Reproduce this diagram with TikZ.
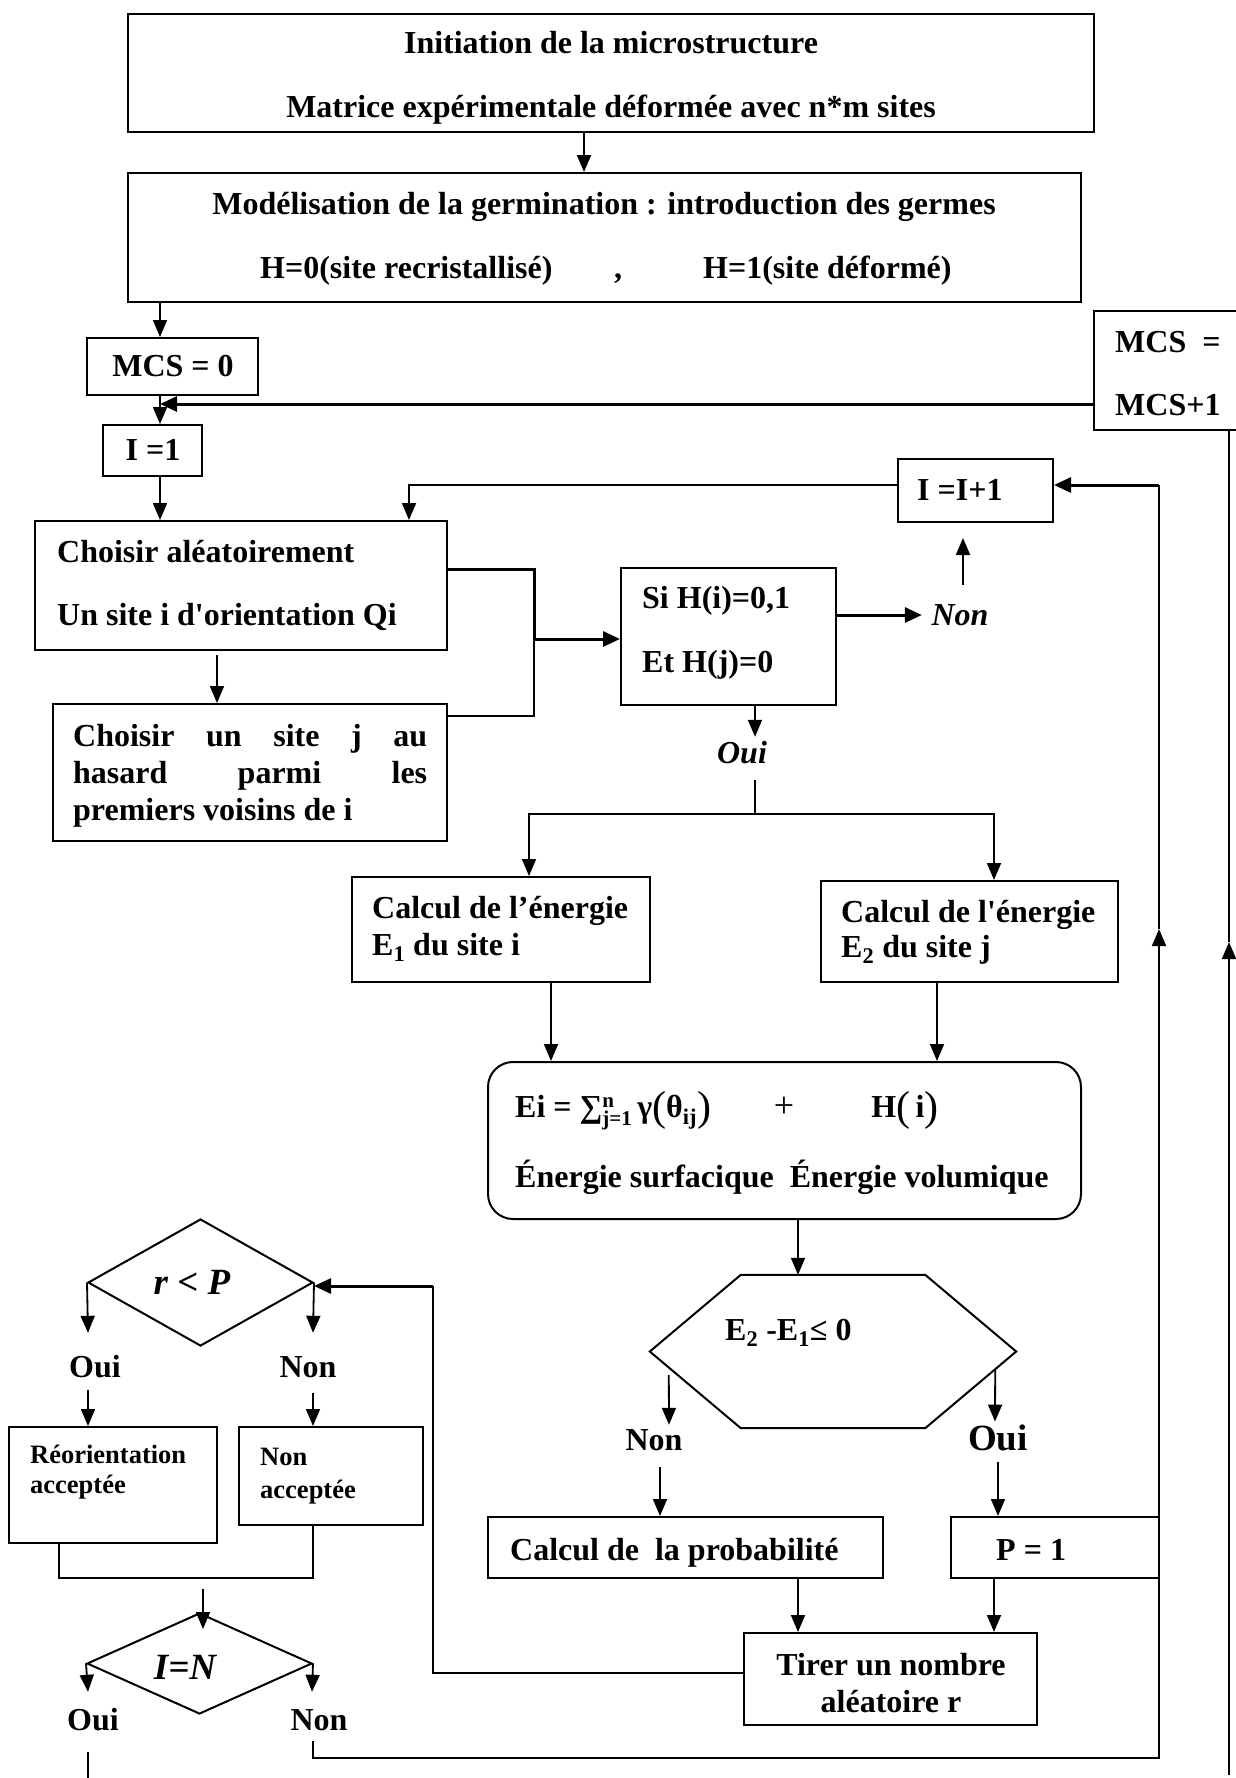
\documentclass[tikz,border=0pt]{standalone}
\usepackage{fontspec}
\setmainfont{Liberation Serif}
\usetikzlibrary{arrows.meta,calc,shapes.geometric}

% stacked limits of the sum, and the thin tall parentheses of the formula
\newcommand{\sumlims}[2]{\raisebox{-8pt}{\fontsize{21}{19}\selectfont\shortstack[l]{#1\\#2}}}
\newcommand{\tallparen}[1]{\raisebox{-3pt}{\fontsize{42}{42}\selectfont\mdseries #1}}

\begin{document}
\begin{tikzpicture}[x=1pt,y=-1pt,
  box/.style={draw, line width=2pt, inner sep=0pt},
  line/.style={line width=1.8pt},
  lineT/.style={line width=3pt},
  arr/.style={line width=1.8pt, -{Triangle[length=17pt,width=14pt]}},
  arrT/.style={line width=3pt, -{Triangle[length=17pt,width=15pt]}},
  txt/.style={inner sep=0pt, font=\fontsize{32}{38}\selectfont\bfseries, text height=21pt, text depth=0pt},
  ltxt/.style={txt, anchor=west},
  itxt/.style={txt, font=\fontsize{32}{38}\selectfont\bfseries\itshape},
  big/.style={inner sep=0pt, font=\fontsize{37}{44}\selectfont\bfseries, text height=24.5pt, text depth=0pt},
  bigi/.style={big, font=\fontsize{37}{44}\selectfont\bfseries\itshape},
  small/.style={inner sep=0pt, anchor=west, font=\fontsize{26.5}{32}\selectfont\bfseries, text height=17.5pt, text depth=0pt},
]
\useasboundingbox (0,0) rectangle (1235,1778);

% ---------- boxes ----------
\node[box, minimum width=966pt, minimum height=118pt] (b1) at (611,73) {};
\node[box, minimum width=953pt, minimum height=129pt] (b2) at (604.5,237.5) {};
\node[box, minimum width=171pt, minimum height=57pt] (mcs0) at (172.5,366.5) {};
\node[box, minimum width=230pt, minimum height=119pt] (mcs1) at (1209,370.5) {};
\node[box, minimum width=99pt, minimum height=51pt] (i1) at (152.5,450.5) {};
\node[box, minimum width=412pt, minimum height=129pt] (ch1) at (241,585.5) {};
\node[box, minimum width=394pt, minimum height=137pt] (ch2) at (250,772.5) {};
\node[box, minimum width=155pt, minimum height=63pt] (ii) at (975.5,490.5) {};
\node[box, minimum width=215pt, minimum height=137pt] (si) at (728.5,636.5) {};
\node[box, minimum width=298pt, minimum height=105pt] (e1) at (501,929.5) {};
\node[box, minimum width=297pt, minimum height=101pt] (e2) at (969.5,931.5) {};
\node[box, rounded corners=25pt, minimum width=593pt, minimum height=157pt] (ei) at (784.5,1140.5) {};
\node[inner sep=0pt, minimum width=366pt, minimum height=153pt] (hex) at (833,1351.5) {};
\draw[line width=2pt] ($(hex.north west)+(91,0)$) -- ($(hex.north east)+(-91,0)$) -- (hex.east)
  -- ($(hex.south east)+(-91,0)$) -- ($(hex.south west)+(91,0)$) -- (hex.west) -- cycle;
\node[box, minimum width=395pt, minimum height=61pt] (proba) at (685.5,1547.5) {};
\node[box, minimum width=208pt, minimum height=61pt] (p1) at (1055,1547.5) {};
\node[box, minimum width=293pt, minimum height=92pt] (tirer) at (890.5,1679) {};
\node[box, diamond, minimum width=225pt, minimum height=127pt] (rp) at (200.5,1282.5) {};
\node[box, diamond, minimum width=225pt, minimum height=101pt] (inN) at (199.5,1663.5) {};
\node[box, minimum width=208pt, minimum height=116pt] (reo) at (113,1485) {};
\node[box, minimum width=184pt, minimum height=98pt] (nac) at (331,1476) {};

% ---------- texts ----------
\node[txt] (t1a) at (611,43) {Initiation de la microstructure};
\node[txt] (t1b) at (611,107) {Matrice expérimentale déformée avec n*m sites};
\node[txt] (t2a) at (604,204) {Modélisation de la germination : introduction des germes};
\node[ltxt] (t2b) at (260,268) {H=0(site recristallisé)};
\node[txt] (t2c) at (618,268) {,};
\node[ltxt] (t2d) at (703,268) {H=1(site déformé)};
\node[txt] (tm0) at (173,366) {MCS = 0};
\node[ltxt] (tm1a) at (1115,342) {MCS\ \ =};
\node[ltxt] (tm1b) at (1115,405) {MCS+1};
\node[txt] (ti1) at (153,450) {I =1};
\node[ltxt] (tii) at (917,490) {I =I+1};
\node[ltxt] (tc1a) at (57,552) {Choisir aléatoirement};
\node[ltxt] (tc1b) at (57,615) {Un site i d\textquotesingle orientation Qi};
\node[ltxt] (tc2a) at (73,736) {\makebox[354pt][s]{Choisir un site j au}};
\node[ltxt] (tc2b) at (73,773) {\makebox[354pt][s]{hasard parmi les}};
\node[ltxt] (tc2c) at (73,810) {premiers voisins de i};
\node[ltxt] (tsa) at (642,598) {Si H(i)=0,1};
\node[ltxt] (tsb) at (642,662) {Et H(j)=0};
\node[itxt] (lnon1) at (960,615) {Non};
\node[itxt] (loui1) at (742,753) {Oui};
\node[ltxt] (te1a) at (372,908) {Calcul de l’énergie};
\node[ltxt] (te1b) at (372,945) {E\textsubscript{1} du site i};
\node[ltxt] (te2a) at (841,912) {Calcul de l\textquotesingle énergie};
\node[ltxt] (te2b) at (841,947) {E\textsubscript{2} du site j};
\node[ltxt] (tf) at (515,1107) {Ei = ∑\sumlims{n}{j=1}\,γ\tallparen{(}θ\textsubscript{ij}\tallparen{)}};
\node[txt, font=\fontsize{36}{40}\selectfont] (tplus) at (784,1107) {+};
\node[txt] (thi) at (905,1107) {H\tallparen{(}\,i\tallparen{)}};
\node[ltxt] (ten) at (515,1177) {Énergie surfacique\ \ Énergie volumique};
\node[ltxt] (th) at (725,1330) {E\textsubscript{2} -E\textsubscript{1}≤ 0};
\node[txt] (lnon2) at (654,1440) {Non};
\node[big] (loui2) at (998,1438) {Oui};
\node[ltxt] (tp) at (510,1550) {Calcul de\ \ la probabilité};
\node[ltxt] (tp1) at (996,1550) {P = 1};
\node[txt] (tta) at (891,1665) {Tirer un nombre};
\node[txt] (ttb) at (891,1702) {aléatoire r};
\node[bigi] (trp) at (192,1282) {r < P};
\node[txt] (loui3) at (95,1367) {Oui};
\node[txt] (lnon3) at (308,1367) {Non};
\node[small] (tra) at (30,1455) {Réorientation};
\node[small] (trb) at (30,1485) {acceptée};
\node[small] (tna) at (260,1457) {Non};
\node[small] (tnb) at (260,1490) {acceptée};
\node[bigi] (tin) at (185,1667) {I=N};
\node[txt] (loui4) at (93,1720) {Oui};
\node[txt] (lnon4) at (319,1720) {Non};

% ---------- junction points ----------
\coordinate (spine) at (160,404);
\coordinate (jn) at (534,639);
\coordinate (fork) at (755,814);
\coordinate (railA) at (1159,1758);
\coordinate (railAup) at (1159,929);
\coordinate (railAtop) at (1159,485);
\coordinate (railB) at (1229,1775);
\coordinate (railBup) at (1229,942);

% ---------- connectors: top part ----------
\draw[arr] ($(b1.south)+(-27,0)$) -- ($(b2.north)+(-20.5,0)$);
\draw[arr] ($(b2.south)+(-444.5,0)$) -- ($(mcs0.north)+(-12.5,0)$);
\draw[arrT] ($(mcs1.west)+(0,33.5)$) -- (spine);
\draw[arr] ($(mcs0.south)+(-12.5,0)$) -- ($(i1.north)+(7.5,0)$);
\draw[arr] ($(i1.south)+(7.5,0)$) -- ($(ch1.north)+(-81,0)$);
\draw[arr] ($(ii.west)+(0,-5.5)$) -| ($(ch1.north)+(168,0)$);
\draw[arr] ($(ch1.south)+(-24,4)$) -- ($(ch2.north)+(-33,0)$);
\draw[lineT] ($(ch1.east)+(0,-16.5)$) -| (jn);
\draw[line] (jn) |- ($(ch2.east)+(0,-56.5)$);
\draw[arrT] (jn) -- (si.west |- jn);
\draw[arrT] ($(si.east)+(0,-21.5)$) -- ($(lnon1.west)+(-9.5,0)$);
\draw[arr] ($(lnon1.north)+(3,-19.5)$) -- ($(ii.south)+(-12.5,15)$);
\draw[arr] ($(si.south)+(26.5,0)$) -- ($(loui1.north)+(13,-5.5)$);
\draw[line] ($(loui1.south)+(13,16.5)$) -- (fork);
\draw[arr] (fork) -| ($(e1.north)+(28,0)$);
\draw[arr] (fork) -| ($(e2.north)+(24.5,0)$);
\draw[arr] ($(e1.south)+(50,0)$) -- ($(ei.north)+(-233.5,0)$);
\draw[arr] ($(e2.south)+(-32.5,0)$) -- ($(ei.north)+(152.5,0)$);
\draw[arr] ($(ei.south)+(13.5,0)$) -- ($(hex.north)+(-35,0)$);

% ---------- connectors: test on the energy ----------
\draw[arr] ($(hex.west)+(19,23.5)$) -- ($(lnon2.north)+(15,-4.5)$);
\draw[arr] ($(hex.east)+(-21,18.5)$) -- ($(loui2.north)+(-3,-4)$);
\draw[arr] ($(lnon2.south)+(6,16.5)$) -- ($(proba.north)+(-25.5,0)$);
\draw[arr] ($(loui2.south)+(0,12)$) -- ($(p1.north)+(-57,0)$);
\draw[arr] ($(proba.south)+(112.5,0)$) -- ($(tirer.north)+(-92.5,0)$);
\draw[arr] ($(p1.south)+(-61,0)$) -- ($(tirer.north)+(103.5,0)$);
\draw[line] ($(tirer.west)+(0,-6)$) -| ($(rp.east)+(119,3.5)$);
\draw[arrT] ($(rp.east)+(119,3.5)$) -- ($(rp.east)+(0,3.5)$);

% ---------- connectors: acceptance ----------
\draw[arr] (rp.west) -- ($(loui3.north)+(-7,-23.5)$);
\draw[arr] (rp.east) -- ($(lnon3.north)+(5,-23.5)$);
\draw[arr] ($(loui3.south)+(-7,12.5)$) -- ($(reo.north)+(-25,0)$);
\draw[arr] ($(lnon3.south)+(5,15.5)$) -- ($(nac.north)+(-18,0)$);
\draw[line] ($(reo.south)+(-54,0)$) -- ($(reo.south)+(-54,34)$) -| ($(nac.south)+(-18,0)$);
\draw[arr] ($(reo.south)+(90,45)$) -- ($(inN.north)+(3.5,17)$);
\draw[arr] (inN.west) -- ($(loui4.north)+(-5,-17.5)$);
\draw[arr] (inN.east) -- ($(lnon4.north)+(-7,-17.5)$);
\draw[line] ($(loui4.south)+(-5,21.5)$) -- ($(loui4.south)+(-5,60)$);

% ---------- loop-back rails ----------
\draw[arr] ($(lnon4.south)+(-6,10.5)$) |- (railA) -- (railAup);
\draw[line] (railAup) -- (railAtop);
\draw[arrT] (railAtop) -- (ii.east |- railAtop);
\draw[arr] (railB) -- (railBup);
\draw[line] (railBup) -- (railB |- mcs1.south);
\end{tikzpicture}
\end{document}
